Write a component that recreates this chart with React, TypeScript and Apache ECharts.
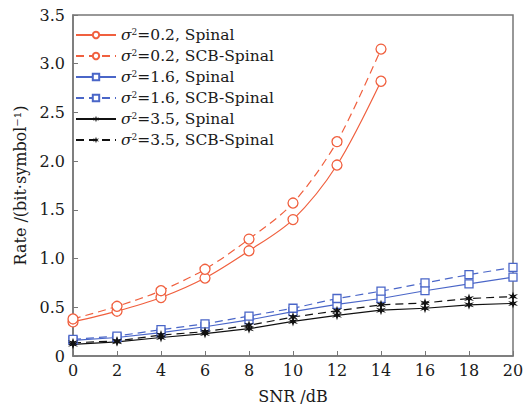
import React, { useEffect, useRef } from "react";
import * as echarts from "echarts";

const snr = [0, 2, 4, 6, 8, 10, 12, 14, 16, 18, 20];
const red02Spinal = [0.35, 0.46, 0.6, 0.8, 1.08, 1.4, 1.96, 2.82];
const red02SCB = [0.38, 0.51, 0.67, 0.89, 1.2, 1.57, 2.2, 3.15];
const blue16Spinal = [0.16, 0.19, 0.24, 0.3, 0.37, 0.455, 0.53, 0.59, 0.67, 0.74, 0.81];
const blue16SCB = [0.17, 0.205, 0.27, 0.33, 0.41, 0.49, 0.59, 0.665, 0.75, 0.835, 0.91];
const black35Spinal = [0.12, 0.145, 0.19, 0.23, 0.28, 0.355, 0.417, 0.47, 0.49, 0.525, 0.54];
const black35SCB = [0.135, 0.155, 0.215, 0.25, 0.315, 0.4, 0.464, 0.525, 0.545, 0.59, 0.61];
const seriesNames = [
  "σ2=0.2, Spinal",
  "σ2=0.2, SCB-Spinal",
  "σ2=1.6, Spinal",
  "σ2=1.6, SCB-Spinal",
  "σ2=3.5, Spinal",
  "σ2=3.5, SCB-Spinal",
];

const RED = "#f0603f";
const BLUE = "#4a66c8";
const BLACK = "#111111";
const FONT = "DejaVu Serif";
const TXT = "#1a1a1a";
const STAR =
  "path://M50,0 L60,35 L93,25 L68,50 L93,75 L60,65 L50,100 L40,65 L7,75 L32,50 L7,25 L40,35 Z";

const pairs = (ys: number[]) => ys.map((y, i) => [snr[i], y]);

export default function App() {
  const ref = useRef<HTMLDivElement>(null);
  useEffect(() => {
    if (!ref.current) return;
    const chart = echarts.init(ref.current, undefined, { renderer: "svg" });
    const mk = (
      idx: number,
      data: number[],
      color: string,
      dashed: boolean,
      symbol: string,
      size: number,
      filled: boolean,
      smooth: boolean
    ) => ({
      name: seriesNames[idx],
      type: "line",
      data: pairs(data),
      smooth: smooth ? 0.3 : false,
      symbol,
      symbolSize: size,
      showAllSymbol: true,
      lineStyle: { color, width: 1.2, type: dashed ? [8, 5] : "solid" },
      itemStyle: {
        color: filled ? color : "#ffffff",
        borderColor: color,
        borderWidth: filled ? 0 : 1.3,
      },
    });
    chart.setOption({
      animation: false,
      grid: { left: 73, right: 19, top: 15, bottom: 47, show: true, borderColor: "#777", borderWidth: 1.5 },
      legend: {
        left: 70,
        top: 22,
        orient: "vertical",
        itemWidth: 40,
        itemHeight: 8,
        itemGap: 5,
        textStyle: {
          fontFamily: FONT,
          fontSize: 15.5,
          color: TXT,
          rich: {
            i: { fontFamily: FONT, fontSize: 15.5, fontStyle: "italic", color: TXT },
            s: { fontFamily: FONT, fontSize: 9, color: TXT, verticalAlign: "top", padding: [0, 0, 7, 0] },
          },
        },
        formatter: (n: string) => "{i|σ}{s|2}" + n.slice(2),
      },
      xAxis: {
        type: "value",
        min: 0,
        max: 20,
        interval: 2,
        name: "SNR /dB",
        nameLocation: "middle",
        nameGap: 32,
        nameTextStyle: { fontFamily: FONT, fontSize: 16, color: TXT },
        axisLine: { lineStyle: { color: "#777", width: 1.5 } },
        axisTick: { inside: true, length: 5, lineStyle: { color: "#777" } },
        axisLabel: { fontFamily: FONT, fontSize: 16, color: TXT, margin: 6 },
        splitLine: { show: false },
      },
      yAxis: {
        type: "value",
        min: 0,
        max: 3.5,
        interval: 0.5,
        name: "Rate /(bit·symbol⁻¹)",
        nameLocation: "middle",
        nameGap: 45,
        nameTextStyle: { fontFamily: FONT, fontSize: 16, color: TXT },
        axisLine: { lineStyle: { color: "#777", width: 1.5 } },
        axisTick: { inside: true, length: 5, lineStyle: { color: "#777" } },
        axisLabel: {
          fontFamily: FONT,
          fontSize: 16,
          color: TXT,
          margin: 8,
          formatter: (v: number) => (v === 0 ? "0" : v.toFixed(1)),
        },
        splitLine: { show: false },
      },
      series: [
        mk(0, red02Spinal, RED, false, "circle", 10, false, true),
        mk(1, red02SCB, RED, true, "circle", 10, false, true),
        mk(2, blue16Spinal, BLUE, false, "rect", 8, false, false),
        mk(3, blue16SCB, BLUE, true, "rect", 8, false, false),
        mk(4, black35Spinal, BLACK, false, STAR, 10, true, false),
        mk(5, black35SCB, BLACK, true, STAR, 10, true, false),
      ],
    });
    return () => chart.dispose();
  }, []);
  return <div ref={ref} style={{ width: 532, height: 409, position: "absolute", left: 0, top: 0 }} />;
}
